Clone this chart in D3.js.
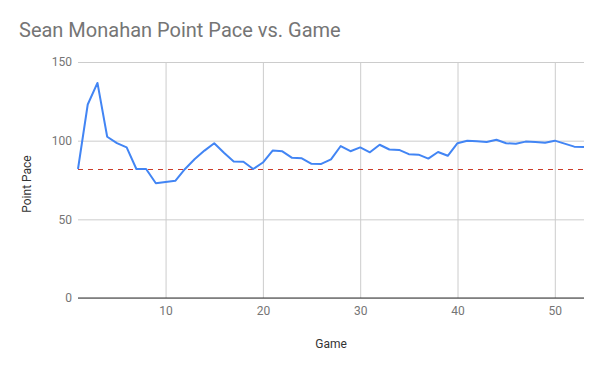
<!DOCTYPE html>
<html lang="en">

<head>
    <meta charset="UTF-8">
    <title>Sean Monahan Point Pace vs. Game</title>
    <script src="https://cdn.jsdelivr.net/npm/d3@7/dist/d3.min.js"></script>
    <style>
        body { margin: 0; background: #fff; }
        text { font-family: Roboto, "Noto Sans", sans-serif; }
    </style>
</head>

<body>

    <script>
    var width = 600,
        height = 371;

    // games 1..53 and the point pace
    var games = d3.range(1, 54);
    var pace = [82.0, 123.0, 136.7, 102.5, 98.4, 95.7, 82.0, 82.0, 72.9, 73.8,
        74.5, 82.0, 88.3, 93.7, 98.4, 92.3, 86.8, 86.6, 82.0, 86.1,
        93.7, 93.2, 89.1, 88.8, 85.3, 85.2, 88.1, 96.6, 93.3, 95.7,
        92.6, 97.4, 94.4, 94.1, 91.4, 91.1, 88.6, 92.8, 90.4, 98.4,
        100.0, 99.6, 99.2, 100.6, 98.4, 98.0, 99.4, 99.1, 98.7, 100.0,
        98.1, 96.2, 95.9];
    var target = 82;
    var xTicks = [10, 20, 30, 40, 50];
    var yTicks = [0, 50, 100, 150];

    var margin = { left: 78, right: 16, top: 62, bottom: 73 };

    var svg = d3.select("body").append("svg")
        .attr("width", width)
        .attr("height", height);

    var x = d3.scaleLinear()
        .domain([1, 53])
        .range([margin.left, width - margin.right]);
    var y = d3.scaleLinear()
        .domain([0, 150])
        .range([height - margin.bottom, margin.top]);

    // title
    svg.append("text")
        .attr("x", 19)
        .attr("y", 37)
        .attr("font-size", 20)
        .attr("fill", "#757575")
        .text("Sean Monahan Point Pace vs. Game");

    // horizontal grid + y labels
    var yAxis = d3.axisLeft(y)
        .tickValues(yTicks)
        .tickSize(-(width - margin.left - margin.right))
        .tickPadding(6);
    var gy = svg.append("g")
        .attr("transform", "translate(" + margin.left + ",0)")
        .call(yAxis);
    gy.select(".domain").remove();
    gy.selectAll("line").attr("stroke", "#cccccc");
    gy.selectAll("text").attr("font-size", 12).attr("fill", "#757575")
        .attr("font-family", "Roboto, sans-serif");

    // vertical grid + x labels
    var xAxis = d3.axisBottom(x)
        .tickValues(xTicks)
        .tickSize(-(height - margin.top - margin.bottom))
        .tickPadding(8);
    var gx = svg.append("g")
        .attr("transform", "translate(0," + (height - margin.bottom) + ")")
        .call(xAxis);
    gx.select(".domain").remove();
    gx.selectAll("line").attr("stroke", "#cccccc");
    gx.selectAll("text").attr("font-size", 12).attr("fill", "#757575")
        .attr("font-family", "Roboto, sans-serif");

    // baseline at 0
    svg.append("line")
        .attr("x1", x(1)).attr("x2", x(53))
        .attr("y1", y(0)).attr("y2", y(0))
        .attr("stroke", "#333333")
        .attr("stroke-width", 1);

    // 82 point reference line (snapped to a pixel so it stays crisp)
    var ty = Math.round(y(target)) + 0.5;
    svg.append("line")
        .attr("x1", x(1)).attr("x2", x(53))
        .attr("y1", ty).attr("y2", ty)
        .attr("stroke", "#cc3b2a")
        .attr("stroke-width", 1)
        .attr("stroke-dasharray", "5,5");

    var line = d3.line()
        .x(function(d, i) { return x(games[i]); })
        .y(function(d) { return y(d); });

    svg.append("path")
        .datum(pace)
        .attr("fill", "none")
        .attr("stroke", "#4285f4")
        .attr("stroke-width", 2)
        .attr("stroke-linejoin", "round")
        .attr("d", line);

    // axis titles
    svg.append("text")
        .attr("x", (margin.left + width - margin.right) / 2)
        .attr("y", 348)
        .attr("text-anchor", "middle")
        .attr("font-size", 12)
        .attr("fill", "#333333")
        .text("Game");

    svg.append("text")
        .attr("transform", "translate(31," + ((margin.top + height - margin.bottom) / 2 + 4) + ") rotate(-90)")
        .attr("text-anchor", "middle")
        .attr("font-size", 12)
        .attr("fill", "#333333")
        .text("Point Pace");
    </script>

</body>

</html>
